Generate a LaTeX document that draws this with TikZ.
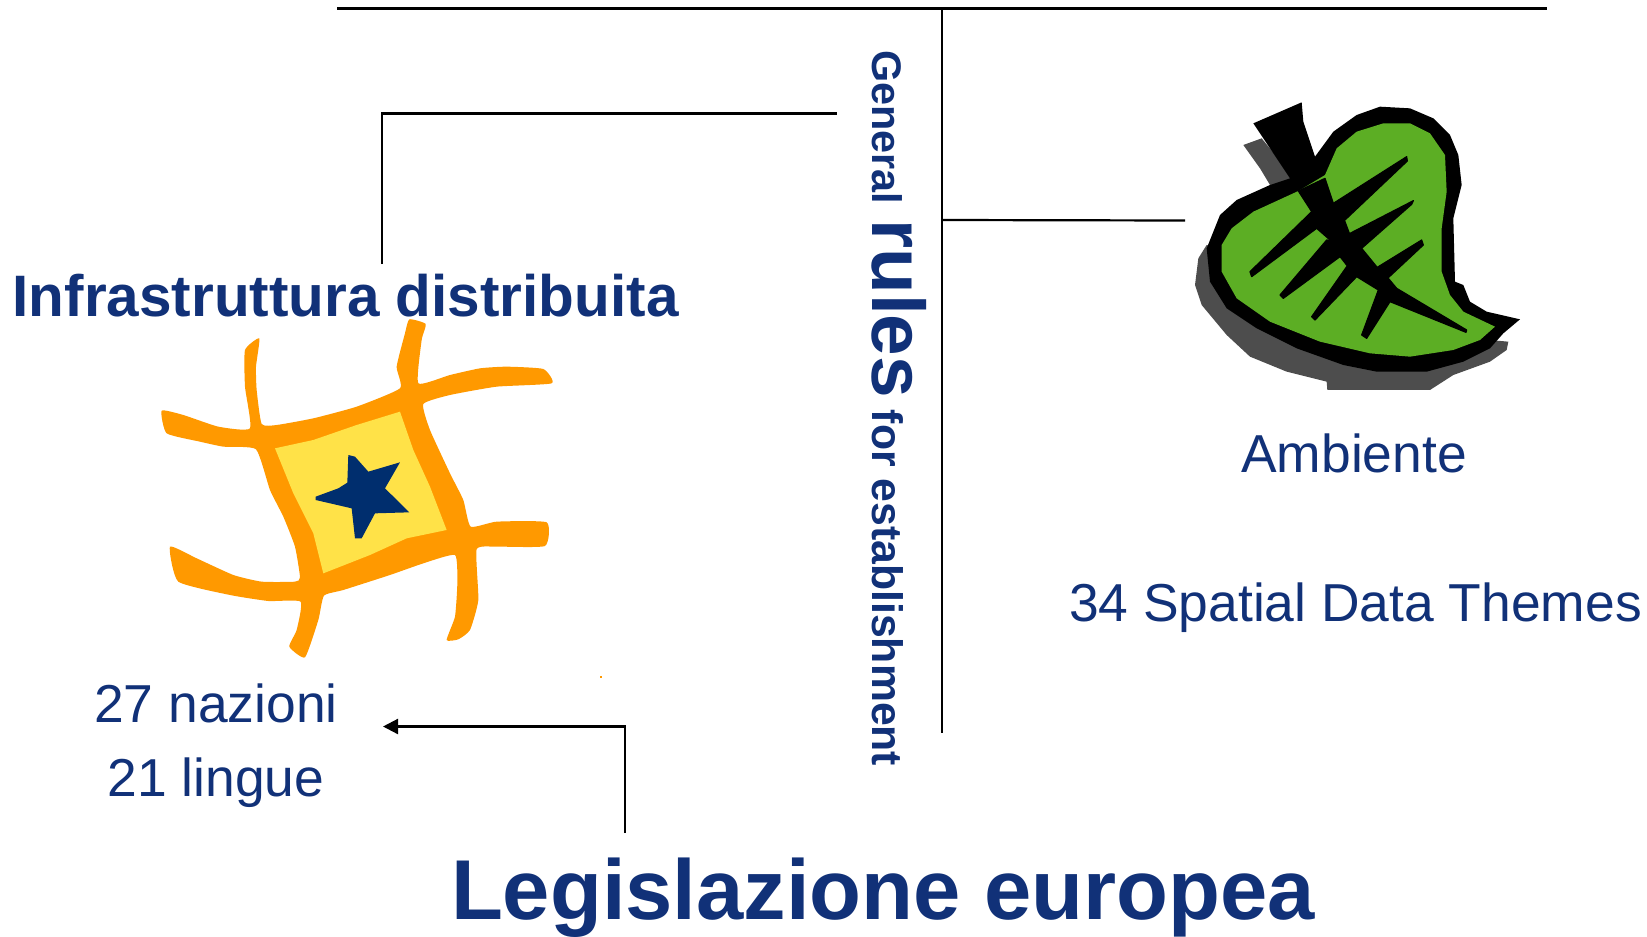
\documentclass[tikz,border=0pt]{standalone}
\usepackage{fontspec}
\setmainfont{Liberation Sans}
\definecolor{navy}{RGB}{17,49,120}
\definecolor{logoorange}{RGB}{255,153,0}
\definecolor{logoyellow}{RGB}{255,226,72}
\definecolor{starblue}{RGB}{0,46,110}
\definecolor{leafgreen}{RGB}{92,174,36}
\definecolor{leafgrey}{RGB}{77,77,77}
\usetikzlibrary{arrows.meta}
\tikzset{
  wire/.style={draw=black,line width=2.2bp},
  arrowwire/.style={wire,-{Triangle[length=15bp,width=15bp]}},
  txt/.style={text=navy,inner sep=0pt,outer sep=0pt},
  plain/.style={txt,font=\fontsize{53.6}{53.6}\selectfont},
  boldmid/.style={txt,font=\fontsize{58.7}{58.7}\selectfont\bfseries},
  boldbig/.style={txt,font=\fontsize{85.3}{85.3}\selectfont\bfseries},
  vein/.style={fill=black,draw=black,line width=1.2bp,line join=round},
  soft/.style={smooth cycle,tension=0.3},
}
\begin{document}
\begin{tikzpicture}[x=1bp,y=-1bp]
\useasboundingbox[fill=white] (0,0) rectangle (1647,936);
% star logo
\begin{scope}[shift={(130,300)},x=0.33333bp,y=-0.33333bp]
\fill[logoorange] plot[soft] coordinates {(95,332)(160,345)(265,380)(360,385)(345,260)(345,150)(388,115)(378,200)(380,270)(395,372)(440,375)(550,355)(680,320)(810,265)(800,200)(825,100)(838,58)(887,72)(875,120)(865,250)(960,225)(1050,205)(1130,200)(1240,207)(1265,250)(1100,260)(960,285)(880,312)(900,390)(960,520)(1000,600)(1022,680)(1100,665)(1250,667)(1245,738)(1100,740)(1040,748)(1045,900)(1020,990)(985,1018)(950,1020)(975,950)(982,850)(975,765)(880,790)(780,825)(640,870)(582,887)(565,960)(525,1072)(478,1040)(500,990)(512,905)(415,903)(300,885)(145,845)(120,740)(200,775)(310,825)(395,845)(495,845)(510,832)(495,740)(460,650)(420,570)(378,448)(280,440)(210,425)(110,400)};
\fill[logoyellow] (435,445)--(550,420)--(680,375)--(810,335)--(850,450)--(900,560)--(950,690)--(830,715)--(720,765)--(580,820)--(550,700)--(490,580)--cycle;
\fill[starblue] (557,590)--(625,565)--(652,548)--(655,465)--(675,470)--(715,515)--(810,487)--(765,565)--(838,637)--(735,640)--(695,715)--(675,715)--(665,625)--(557,600)--cycle;
\end{scope}
% stray dot
\fill[logoorange] (600,675.5) rectangle (602,678);
% leaf logo
\begin{scope}[shift={(1170,85)},x=0.33333bp,y=-0.33333bp]
\fill[leafgrey] (110,480)--(85,520)--(75,600)--(95,660)--(170,750)--(240,815)--(350,860)--(470,890)--(472,915)--(780,915)--(850,870)--(960,830)--(1010,795)--(1015,770)--(900,760)--(500,600)--cycle;
\fill[leafgrey] (220,180)--(275,160)--(365,270)--(360,295)--(300,300)--(270,250)--cycle;
\fill[black] (250,115)--(395,52)--(400,110)--(435,215)--(490,140)--(560,90)--(630,65)--(720,70)--(790,100)--(840,150)--(865,210)--(875,300)--(850,400)--(855,590)--(880,600)--(900,650)--(950,680)--(1050,703)--(1000,745)--(960,790)--(880,830)--(770,860)--(620,860)--(520,840)--(380,790)--(260,730)--(170,670)--(120,590)--(110,490)--(150,390)--(200,345)--(300,300)--(360,280)--(300,190)--cycle;
\fill[leafgreen] (465,270)--(500,190)--(560,140)--(640,115)--(720,115)--(780,145)--(825,210)--(830,320)--(815,430)--(815,560)--(840,630)--(880,680)--(975,725)--(930,765)--(850,795)--(720,815)--(600,805)--(450,770)--(300,710)--(200,640)--(155,560)--(155,480)--(185,430)--(250,380)--(385,318)--cycle;
\path[vein] (385,318)--(465,280)--(490,355)--(525,410)--(540,450)--(575,490)--(620,545)--(655,580)--(680,610)--(890,735)--(888,742)--(660,650)--(625,615)--(560,575)--(530,540)--(480,465)--(425,380)--cycle;
\path[vein] (490,355)--(710,215)--(712,228)--(525,405)--(480,420)--cycle;
\path[vein] (540,445)--(730,347)--(725,358)--(575,490)--(520,490)--cycle;
\path[vein] (625,545)--(755,465)--(760,480)--(655,578)--(600,570)--cycle;
\path[vein] (625,615)--(660,650)--(590,760)--(575,750)--cycle;
\path[vein] (425,380)--(240,560)--(245,575)--(440,430)--(480,465)--(470,400)--cycle;
\path[vein] (470,465)--(330,630)--(340,640)--(510,515)--(530,540)--(520,470)--cycle;
\path[vein] (530,545)--(425,695)--(435,705)--(560,575)--(570,530)--cycle;
\end{scope}
% texts
\node[boldmid,anchor=base west] (infra) at (12.6,316) {Infrastruttura distribuita};
\node[boldbig,anchor=base west] (legis) at (451,919) {Legislazione europea};
\node[plain,anchor=base] (nazioni) at (216,722) {27 nazioni};
\node[plain,anchor=base] (lingue) at (216,796.5) {21 lingue};
\node[plain,anchor=base] (ambiente) at (1354,472.5) {Ambiente};
\node[plain,anchor=base west] (themes) at (1069,621.5) {34 Spatial Data Themes};
\node[txt,anchor=base west,rotate=-90,font=\bfseries] (rules) at (872.5,50) {\fontsize{41.5}{41.5}\selectfont General\hspace{15.5bp}\fontsize{75}{75}\selectfont rules\fontsize{42.9}{42.9}\selectfont{} for establishment};
% connector ends
\coordinate (topL) at (337,8.5);
\coordinate (topR) at (1547,8.5);
\coordinate (vTop) at (942,8.5);
\coordinate (vBot) at (942,733);
\coordinate (vBranch) at (942,220);
\coordinate (leafEnd) at (1185,220.5);
\coordinate (leftEnd) at (837,113.5);
\coordinate (leftCorner) at (382,113.5);
\coordinate (infraEnd) at (382,264);
\coordinate (arrCorner) at (625,726.5);
\coordinate (arrStart) at (625,833);
\coordinate (arrEnd) at (383,726.5);
\draw[wire] (topL) -- (topR);
\draw[wire] (vTop) -- (vBot);
\draw[wire] (vBranch) -- (leafEnd);
\draw[wire] (infraEnd) -- (leftCorner) -- (leftEnd);
\draw[arrowwire] (arrStart) -- (arrCorner) -- (arrEnd);
\end{tikzpicture}
\end{document}
